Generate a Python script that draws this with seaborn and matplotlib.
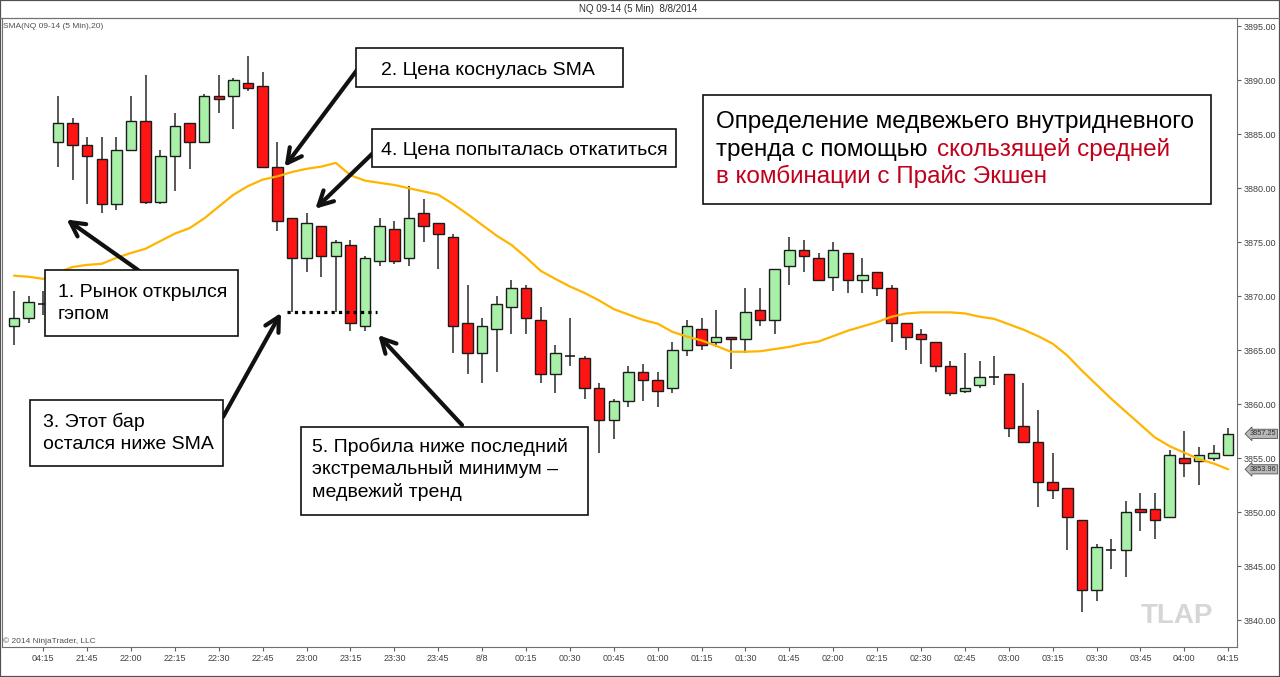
import matplotlib
matplotlib.use("Agg")
import matplotlib.pyplot as plt
import matplotlib.patches as mpatches
import matplotlib.lines as mlines
import numpy as np
import pandas as pd
import seaborn as sns

## NQ 09-14, 5 min bars
opens = [3867.25, 3868.0, 3869.25, 3884.25, 3886.0, 3884.0, 3882.75, 3878.5, 3883.5, 3886.25,
         3878.75, 3883.0, 3886.0, 3884.25, 3888.5, 3888.5, 3889.75, 3889.5, 3882.0, 3877.25,
         3873.5, 3876.5, 3873.75, 3874.75, 3867.25, 3873.25, 3876.25, 3873.5, 3877.75, 3876.75,
         3875.5, 3867.5, 3864.75, 3867.0, 3869.0, 3870.75, 3867.75, 3862.75, 3864.5, 3864.25,
         3861.5, 3858.5, 3860.25, 3863.0, 3862.25, 3861.5, 3865.0, 3867.0, 3865.75, 3866.25,
         3866.0, 3868.75, 3867.75, 3872.75, 3874.25, 3873.5, 3871.75, 3874.0, 3871.5, 3872.25,
         3870.75, 3867.5, 3866.5, 3865.75, 3863.5, 3861.25, 3861.75, 3862.5, 3862.75, 3858.0,
         3856.5, 3852.75, 3852.25, 3849.25, 3842.75, 3846.5, 3846.5, 3850.25, 3850.25, 3849.5,
         3855.0, 3854.75, 3855.0, 3855.25]
highs = [3870.5, 3870.0, 3870.5, 3888.5, 3886.5, 3884.75, 3884.75, 3884.75, 3888.5, 3890.5,
         3883.5, 3887.0, 3886.0, 3888.75, 3890.5, 3890.25, 3892.25, 3890.75, 3884.25, 3877.25,
         3877.75, 3876.5, 3875.25, 3875.25, 3873.75, 3877.25, 3877.0, 3880.25, 3879.0, 3876.75,
         3875.75, 3871.0, 3868.0, 3870.0, 3871.5, 3871.0, 3869.0, 3865.5, 3868.0, 3864.5,
         3862.0, 3860.5, 3863.5, 3863.75, 3863.0, 3865.75, 3867.75, 3868.0, 3868.75, 3866.25,
         3870.75, 3870.75, 3872.5, 3875.5, 3875.25, 3874.0, 3875.0, 3874.0, 3873.5, 3872.25,
         3871.0, 3867.5, 3867.0, 3865.75, 3864.0, 3864.75, 3864.0, 3864.5, 3862.75, 3862.0,
         3859.5, 3855.5, 3852.25, 3849.25, 3847.0, 3847.5, 3851.0, 3851.75, 3851.75, 3855.75,
         3857.5, 3856.0, 3856.25, 3857.75]
lows = [3865.5, 3867.5, 3868.25, 3882.0, 3880.75, 3878.5, 3877.75, 3878.0, 3883.5, 3878.5,
        3878.5, 3879.75, 3881.75, 3884.25, 3887.0, 3885.5, 3889.0, 3882.0, 3876.0, 3868.5,
        3872.25, 3871.75, 3868.5, 3866.75, 3866.75, 3872.75, 3873.0, 3872.75, 3875.0, 3872.5,
        3864.75, 3862.75, 3862.0, 3863.0, 3866.5, 3866.5, 3862.0, 3861.0, 3863.5, 3860.5,
        3855.5, 3856.75, 3859.75, 3860.25, 3859.75, 3861.0, 3864.5, 3865.0, 3865.25, 3863.25,
        3864.75, 3867.25, 3866.5, 3871.0, 3872.25, 3871.5, 3870.5, 3870.25, 3870.25, 3870.0,
        3865.75, 3865.0, 3863.75, 3863.0, 3860.75, 3861.0, 3861.5, 3861.75, 3857.0, 3856.5,
        3850.5, 3851.25, 3846.5, 3840.75, 3841.75, 3844.75, 3844.0, 3848.25, 3847.5, 3849.5,
        3853.25, 3852.5, 3854.75, 3855.25]
closes = [3868.0, 3869.5, 3869.25, 3886.0, 3884.0, 3883.0, 3878.5, 3883.5, 3886.25, 3878.75,
          3883.0, 3885.75, 3884.25, 3888.5, 3888.25, 3890.0, 3889.25, 3882.0, 3877.0, 3873.5,
          3876.75, 3873.75, 3875.0, 3867.5, 3873.5, 3876.5, 3873.25, 3877.25, 3876.5, 3875.75,
          3867.25, 3864.75, 3867.25, 3869.25, 3870.75, 3868.0, 3862.75, 3864.75, 3864.5, 3861.5,
          3858.5, 3860.25, 3863.0, 3862.25, 3861.25, 3865.0, 3867.25, 3865.5, 3866.25, 3866.0,
          3868.5, 3867.75, 3872.5, 3874.25, 3873.75, 3871.5, 3874.25, 3871.5, 3872.0, 3870.75,
          3867.5, 3866.25, 3866.0, 3863.5, 3861.0, 3861.5, 3862.5, 3862.5, 3857.75, 3856.5,
          3852.75, 3852.0, 3849.5, 3842.75, 3846.75, 3846.5, 3850.0, 3850.0, 3849.25, 3855.25,
          3854.5, 3855.25, 3855.5, 3857.25]
## SMA(20) as drawn on the chart
sma = [3871.9, 3871.8, 3871.6, 3872.2, 3872.7, 3872.9, 3873.0, 3873.55, 3874.0, 3874.4,
       3875.1, 3875.8, 3876.3, 3877.2, 3878.3, 3879.4, 3880.2, 3880.8, 3881.1, 3881.5,
       3881.8, 3882.0, 3882.35, 3881.2, 3880.7, 3880.5, 3880.3, 3880.0, 3879.7, 3879.4,
       3878.55, 3877.6, 3876.6, 3875.6, 3874.75, 3873.6, 3872.35, 3871.6, 3870.9, 3870.3,
       3869.6, 3868.8, 3868.3, 3867.8, 3867.45, 3866.7, 3866.25, 3865.9, 3865.4, 3864.85,
       3864.85, 3864.9, 3865.1, 3865.3, 3865.6, 3865.8, 3866.3, 3866.8, 3867.2, 3867.6,
       3868.1, 3868.4, 3868.5, 3868.5, 3868.5, 3868.4, 3868.1, 3867.9, 3867.4, 3866.9,
       3866.3, 3865.6, 3864.5, 3863.1, 3861.8, 3860.5, 3859.3, 3858.1, 3856.9, 3856.1,
       3855.5, 3854.9, 3854.5, 3853.96]
time_labels = ["04:15", "21:45", "22:00", "22:15", "22:30", "22:45", "23:00", "23:15", "23:30",
               "23:45", "8/8", "00:15", "00:30", "00:45", "01:00", "01:15", "01:30", "01:45",
               "02:00", "02:15", "02:30", "02:45", "03:00", "03:15", "03:30", "03:45", "04:00",
               "04:15"]

df = pd.DataFrame({"bar": np.arange(len(closes)), "open": opens, "high": highs,
                   "low": lows, "close": closes, "sma": sma})

sns.set_theme(style="white")
plt.rcParams["font.family"] = ["Liberation Sans", "DejaVu Sans"]

W, H = 1280, 677
fig = plt.figure(figsize=(12.8, 6.77), dpi=100)
ax = fig.add_axes([2 / W, 30 / H, 1235 / W, 629 / H])

## candles
edge = "#1c1c1c"
ax.vlines(df.bar, df.low, df.high, color="#2a2a2a", lw=1.1, zorder=2)
up = df[df.close > df.open]
dn = df[df.close < df.open]
flat = df[df.close == df.open]
ax.bar(up.bar, up.close - up.open, bottom=up.open, width=0.72,
       color="#a8f0a8", edgecolor=edge, lw=1.0, zorder=3)
ax.bar(dn.bar, dn.open - dn.close, bottom=dn.close, width=0.72,
       color="#ff1414", edgecolor=edge, lw=1.0, zorder=3)
ax.hlines(flat.close, flat.bar - 0.36, flat.bar + 0.36, color=edge, lw=1.2, zorder=3)

## SMA line
sns.lineplot(data=df, x="bar", y="sma", ax=ax, color="#ffb400", lw=1.6,
             legend=False, zorder=4)

## dotted level at the low of the 23:00 bar
ax.hlines(df.low[19], 18.65, 24.8, colors="black", lw=2.3,
          linestyles=(0, (1, 1.3)), zorder=5)

ax.set_xlim(-0.82, 83.6)
ax.set_ylim(3837.5, 3895.77)
ax.set_xlabel("")
ax.set_ylabel("")
ax.set_xticks(np.arange(2, 84, 3))
ax.set_xticklabels(time_labels)
ax.yaxis.tick_right()
yt = np.arange(3840, 3896, 5)
ax.set_yticks(yt)
ax.set_yticklabels([f"{v:.2f}" for v in yt])
ax.tick_params(axis="both", length=3, width=0.8, color="#606060", labelsize=6.5,
               labelcolor="#404040", pad=2, direction="out")
ax.tick_params(axis="y", right=True, left=False)
ax.tick_params(axis="x", bottom=True)
for s in ax.spines.values():
    s.set_color("#707070")
    s.set_linewidth(0.8)

## price tags on the right axis
for val, txt in [(closes[-1], "3857.25"), (sma[-1], "3853.96")]:
    ax.text(1.0105, val, txt, transform=ax.get_yaxis_transform(), fontsize=5.3,
            ha="left", va="center", color="#303030", clip_on=False,
            bbox=dict(boxstyle="larrow,pad=0.15", fc="#b8b8b8", ec="#555555", lw=0.6))

## header and small texts
fig.add_artist(mlines.Line2D([0, 1], [1 - 18 / H] * 2, transform=fig.transFigure,
                             color="#707070", lw=0.8))
fig.add_artist(mpatches.Rectangle((0, 0), 1, 1, transform=fig.transFigure, fill=False,
                                  ec="#505050", lw=1.6))
fig.text(638 / W, 1 - 9 / H, "NQ 09-14 (5 Min)  8/8/2014", ha="center", va="center",
         fontsize=7, color="#303030")
fig.text(3 / W, 1 - 26 / H, "SMA(NQ 09-14 (5 Min),20)", ha="left", va="center",
         fontsize=6, color="#505050")
fig.text(3 / W, 1 - 641 / H, "© 2014 NinjaTrader, LLC", ha="left", va="center",
         fontsize=6, color="#505050")
fig.text(1177 / W, 1 - 616 / H, "TLAP", ha="center", va="center", fontsize=20,
         fontweight="bold", color="#d6d6d6")


def box(x0, y0, x1, y1):
    fig.add_artist(mpatches.Rectangle((x0 / W, 1 - y1 / H), (x1 - x0) / W, (y1 - y0) / H,
                                      transform=fig.transFigure, fc="white",
                                      ec="#111111", lw=1.2, zorder=10))


def say(x, y, s, size=14, color="black"):
    fig.text(x / W, 1 - y / H, s, ha="left", va="baseline", fontsize=size,
             color=color, zorder=11)


def arrow(bar, price, tx, ty):
    ax.annotate("", xy=(bar, price), xycoords="data", xytext=(tx, H - ty),
                textcoords="figure pixels", annotation_clip=False, zorder=12,
                arrowprops=dict(arrowstyle="->,head_length=0.85,head_width=0.45",
                                lw=3, color="#111111", shrinkA=0, shrinkB=0))


arrow(3.6, 3877.1, 138, 270)
arrow(18.5, 3882.0, 357, 70)
arrow(20.6, 3878.1, 373, 153)
arrow(18.25, 3868.45, 223, 417)
arrow(24.9, 3866.4, 462, 425)

box(45, 270, 238, 336)
say(58, 297, "1. Рынок открылся")
say(58, 319, "гэпом")

box(356, 48, 623, 87)
say(381, 75, "2. Цена коснулась SMA")

box(372, 129, 676, 167)
say(381, 155, "4. Цена попыталась откатиться")

box(30, 400, 223, 466)
say(43, 427, "3. Этот бар")
say(43, 449, "остался ниже SMA")

box(301, 427, 588, 515)
say(312, 452, "5. Пробила ниже последний")
say(312, 474, "экстремальный минимум –")
say(312, 497, "медвежий тренд")

red = "#c0001c"
box(703, 95, 1211, 204)
say(716, 128, "Определение медвежьего внутридневного", size=17.5)
say(716, 156, "тренда с помощью", size=17.5)
say(937, 156, "скользящей средней", size=17.5, color=red)
say(716, 183, "в комбинации с Прайс Экшен", size=17.5, color=red)

fig.savefig("out.png", dpi=100)
